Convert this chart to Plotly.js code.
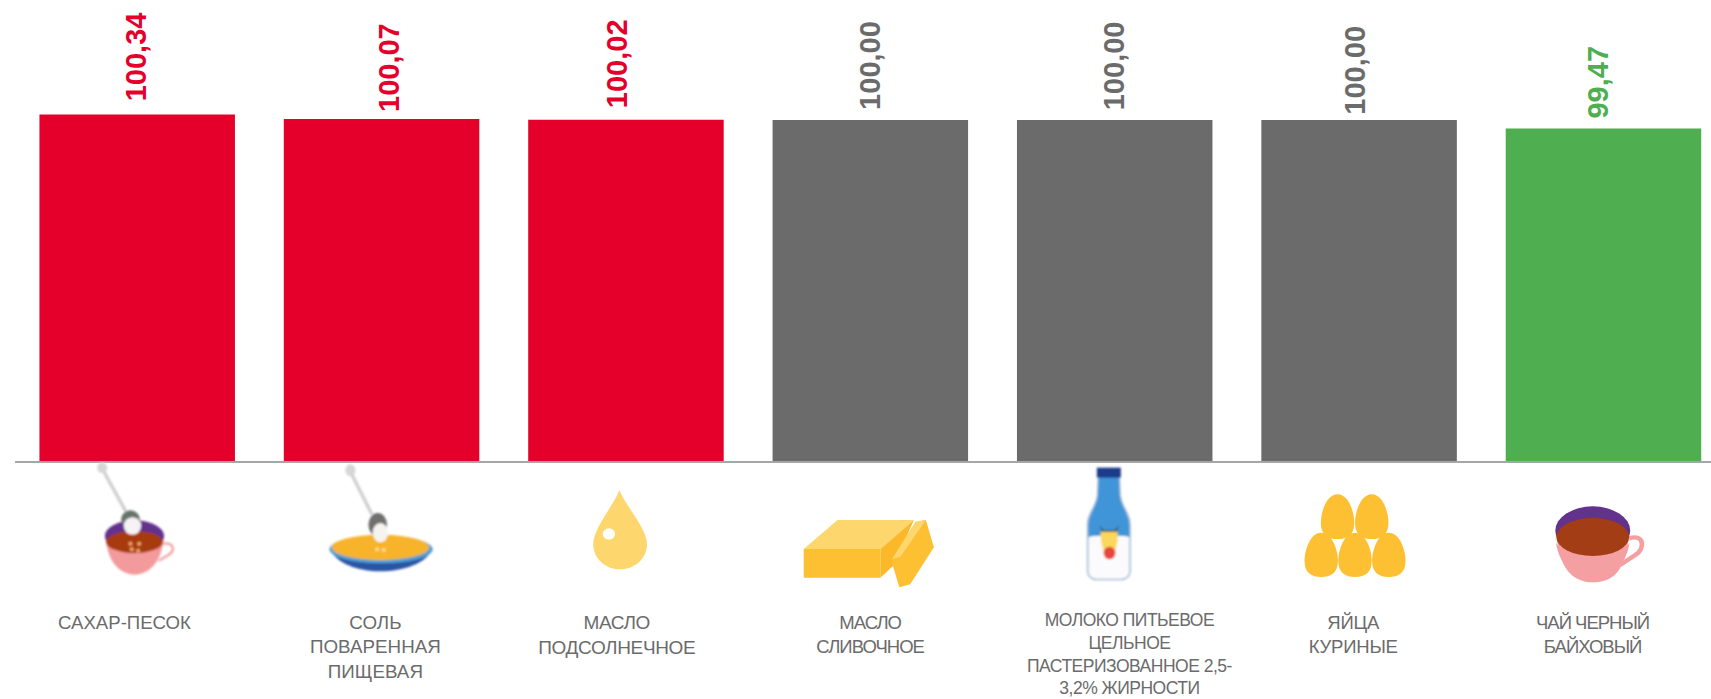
<!DOCTYPE html>
<html><head><meta charset="utf-8">
<script src="https://cdn.plot.ly/plotly-3.0.1.min.js"></script>
<style>
html,body{margin:0;padding:0;background:#fff;overflow:hidden}
#chart{width:1711px;height:699px}
g.annotation[data-index="9"] text{letter-spacing:-.37px}
g.annotation[data-index="10"] text{letter-spacing:-.97px}
g.annotation[data-index="11"] text{letter-spacing:-.5px}
g.annotation[data-index="12"] text{letter-spacing:-.2px}
g.annotation[data-index="13"] text{letter-spacing:-1px}
</style></head><body><div id="chart"></div>
<script>
const categories = ["САХАР-ПЕСОК","СОЛЬ<br>ПОВАРЕННАЯ<br>ПИЩЕВАЯ","МАСЛО<br>ПОДСОЛНЕЧНОЕ","МАСЛО<br>СЛИВОЧНОЕ","МОЛОКО ПИТЬЕВОЕ<br>ЦЕЛЬНОЕ<br>ПАСТЕРИЗОВАННОЕ 2,5-<br>3,2% ЖИРНОСТИ","ЯЙЦА<br>КУРИНЫЕ","ЧАЙ ЧЕРНЫЙ<br>БАЙХОВЫЙ"];
const values = [100.34,100.07,100.02,100.00,100.00,100.00,99.47];
const valueLabels = ["100,34","100,07","100,02","100,00","100,00","100,00","99,47"];

const RED="#e4002b",GREY="#6b6b6b",GREEN="#4eae50";
const barColors=[RED,RED,RED,GREY,GREY,GREY,GREEN];
const valNudgeX=[-1,8,-9,-1,-1,-5,-5], valNudgeY=[11,5,10,8,8,3,8];
const catNudgeX=[-13,-6,-9,0,15,-6,-11], catNudgeY=[0,0,0,0,-2,0,0];
const catSize=[18.6,18.8,19,18.5,17.5,18.5,18.5];

const L=14.5,T=0,W=1696.5,H=461;
function iconAt(ox,oy,zx,zy,x0,x1,y0,y1,inner,blur){
  const px=ox+x0/zx, pw=(x1-x0)/zx, py=oy+y0/zy, ph=(y1-y0)/zy;
  const defs=blur?`<defs><filter id="b" x="-10%" y="-10%" width="120%" height="120%"><feGaussianBlur stdDeviation="${blur}"/></filter></defs><g filter="url(#b)">${inner}</g>`:inner;
  const svg=`<svg xmlns="http://www.w3.org/2000/svg" width="${Math.round(pw*4)}" height="${Math.round(ph*4)}" viewBox="${x0} ${y0} ${x1-x0} ${y1-y0}" preserveAspectRatio="none">${defs}</svg>`;
  return {source:"data:image/svg+xml;charset=utf-8,"+encodeURIComponent(svg),xref:"paper",yref:"paper",
    x:(px-L)/W,y:1-(py-T)/H,sizex:pw/W,sizey:ph/H,xanchor:"left",yanchor:"top",sizing:"stretch",layer:"above"};
}
function icon(off,x0,x1,y0,y1,inner){return iconAt(off,440,2.75,3,x0,x1,y0,y1,inner,0.8);}
const PINK="#f4a0a2",PURPLE="#62308c",TEA="#a33d14",YL="#fdd76e",YD="#fdc030";
function egg(cx,t,b){const r=46,m=t+(b-t)*.64;return `<path d="M${cx},${t} C${cx+30},${t} ${cx+r},${m-34} ${cx+r},${m} C${cx+r},${b-12} ${cx+26},${b} ${cx},${b} C${cx-26},${b} ${cx-r},${b-12} ${cx-r},${m} C${cx-r},${m-34} ${cx-30},${t} ${cx},${t}Z" fill="${YD}"/>`;}
const icons=[
 iconAt(90,462,3,3,0,270,0,345,`
  <path d="M47,232 C50,300 90,338 132,338 C175,338 214,300 219,232Z" fill="#f39a9c"/>
  <path d="M214,245 C252,240 255,265 235,278 L205,296" fill="none" stroke="${PINK}" stroke-width="7"/>
  <ellipse cx="132" cy="222" rx="89" ry="47" fill="${PURPLE}"/>
  <ellipse cx="132" cy="240" rx="85" ry="33" fill="#a83a10"/>
  <path d="M34,18 L108,152" stroke="#cfcfcf" stroke-width="10"/>
  <ellipse cx="35" cy="17" rx="15" ry="16" fill="#d6d6d6"/>
  <ellipse cx="120" cy="172" rx="28" ry="27" fill="#66756c"/>
  <ellipse cx="126" cy="192" rx="26" ry="26" fill="#f6f2f5"/>
  <circle cx="120" cy="245" r="6" fill="#eda76a"/><circle cx="146" cy="245" r="6" fill="#eda76a"/>
  <circle cx="124" cy="262" r="6" fill="#eda76a"/><circle cx="143" cy="266" r="6" fill="#eda76a"/>`,2.5),
 iconAt(320,462,3,3,0,360,0,345,`
  <path d="M28,262 C50,305 110,328 180,328 C250,328 315,305 337,262Z" fill="#2a55a5"/>
  <ellipse cx="182" cy="262" rx="155" ry="42" fill="#52a0d6"/>
  <ellipse cx="180" cy="256" rx="146" ry="38" fill="#f7b429"/>
  <path d="M88,25 L155,158" stroke="#cfcfcf" stroke-width="10"/>
  <ellipse cx="90" cy="25" rx="15" ry="18" fill="#d6d6d6"/>
  <ellipse cx="172" cy="188" rx="28" ry="35" fill="#6f6f6f"/>
  <ellipse cx="180" cy="212" rx="23" ry="29" fill="#f6f4ef"/>
  <circle cx="170" cy="262" r="6" fill="#fbe08a"/><circle cx="190" cy="264" r="6" fill="#fbe08a"/>`,2.5),
 icon(570,50,225,140,400,`
  <path d="M135,150 C150,195 211,265 211,312 C211,355 178,388 137,388 C96,388 63,355 63,312 C63,265 120,195 135,150Z" fill="${YL}"/>
  <ellipse cx="106" cy="282" rx="17" ry="17" fill="#fff"/>`),
 icon(570,630,1010,230,450,`
  <path d="M642,327 L735,240 L945,240 L853,327Z" fill="${YL}"/>
  <path d="M642,327 L853,327 L853,413 L642,413Z" fill="${YD}"/>
  <path d="M853,327 L945,240 L890,375 L853,413Z" fill="#fbb92a"/>
  <path d="M885,357 L950,245 L978,240 L1000,322 L935,433 L905,442 L888,380Z" fill="${YD}"/>
  <path d="M885,357 L950,245 L978,240 L908,350Z" fill="${YL}"/>`),
 iconAt(1060,465,3,3,0,240,0,360,`
  <path d="M112,36 L180,36 L182,90 C186,125 212,145 212,180 L212,318 C212,335 198,346 182,346 L110,346 C94,346 80,335 80,318 L80,180 C80,145 106,125 110,90Z" fill="#a3bcd6"/>
  <path d="M116,36 L176,36 L178,90 C182,125 207,147 207,182 L207,222 L85,222 L85,182 C85,147 110,125 114,90Z" fill="#3f94d8"/>
  <path d="M85,216 C105,210 190,210 207,216 L207,318 C207,332 196,341 182,341 L110,341 C96,341 85,332 85,318Z" fill="#fbfbfd"/>
  <rect x="110" y="8" width="72" height="30" fill="#1f3a8a"/>
  <path d="M118,180 L130,196 L165,196 L176,180 L168,208 L128,208Z" fill="#4a4a3c"/>
  <path d="M122,200 L172,200 C174,235 168,262 148,272 C128,262 120,235 122,200Z" fill="#fbd75c"/>
  <ellipse cx="148" cy="264" rx="18" ry="19" fill="#e8453c"/>`,2.5),
 icon(1140,440,740,155,420,egg(543,163,297)+egg(637,163,297)+egg(498,278,411)+egg(591,278,411)+egg(684,278,411)),
 icon(1140,1130,1395,190,435,`
  <path d="M1345,295 C1390,280 1388,330 1362,345 L1320,375" fill="none" stroke="${PINK}" stroke-width="13"/>
  <path d="M1145,285 C1152,385 1190,427 1245,427 C1300,427 1335,395 1345,285Z" fill="${PINK}"/>
  <ellipse cx="1245" cy="272" rx="103" ry="73" fill="${PURPLE}"/>
  <path d="M1142,285 C1145,385 1200,400 1245,427 L1245,427 C1290,400 1345,385 1348,285 L1348,300 C1340,340 1290,348 1245,348 C1200,348 1150,340 1142,300Z" fill="${PINK}"/>
  <ellipse cx="1245" cy="291" rx="100" ry="57" fill="${TEA}"/>`)
];

const valueAnn=values.map((v,i)=>({x:i,y:v,xref:"x",yref:"y",text:valueLabels[i],textangle:-90,showarrow:false,
  xanchor:"center",yanchor:"bottom",xshift:valNudgeX[i],yshift:valNudgeY[i],
  font:{family:"Liberation Sans, Arial, sans-serif",size:29,weight:700,color:barColors[i]}}));
const catAnn=categories.map((c,i)=>({x:i,y:(H-610)/H,xref:"x",yref:"paper",text:c,showarrow:false,
  xanchor:"center",yanchor:"top",xshift:catNudgeX[i],yshift:-catNudgeY[i],align:"center",
  font:{family:"Liberation Sans, Arial, sans-serif",size:catSize[i],color:"#6b6b6b"}}));

Plotly.newPlot("chart",[{type:"bar",x:[0,1,2,3,4,5,6],y:values,marker:{color:barColors,line:{width:0}},hoverinfo:"skip",width:0.8}],{
  width:1711,height:699,paper_bgcolor:"#fff",plot_bgcolor:"#fff",showlegend:false,
  margin:{l:L,r:0,t:T,b:699-H,pad:0},
  xaxis:{range:[-0.5,6.44],showgrid:false,zeroline:false,showline:true,linecolor:"#a6a6a6",linewidth:1.5,ticks:"",showticklabels:false,fixedrange:true},
  yaxis:{range:[78.7,107.5],showgrid:false,zeroline:false,showline:false,ticks:"",showticklabels:false,fixedrange:true},
  annotations:valueAnn.concat(catAnn),images:icons
},{displayModeBar:false,staticPlot:true});
</script></body></html>
